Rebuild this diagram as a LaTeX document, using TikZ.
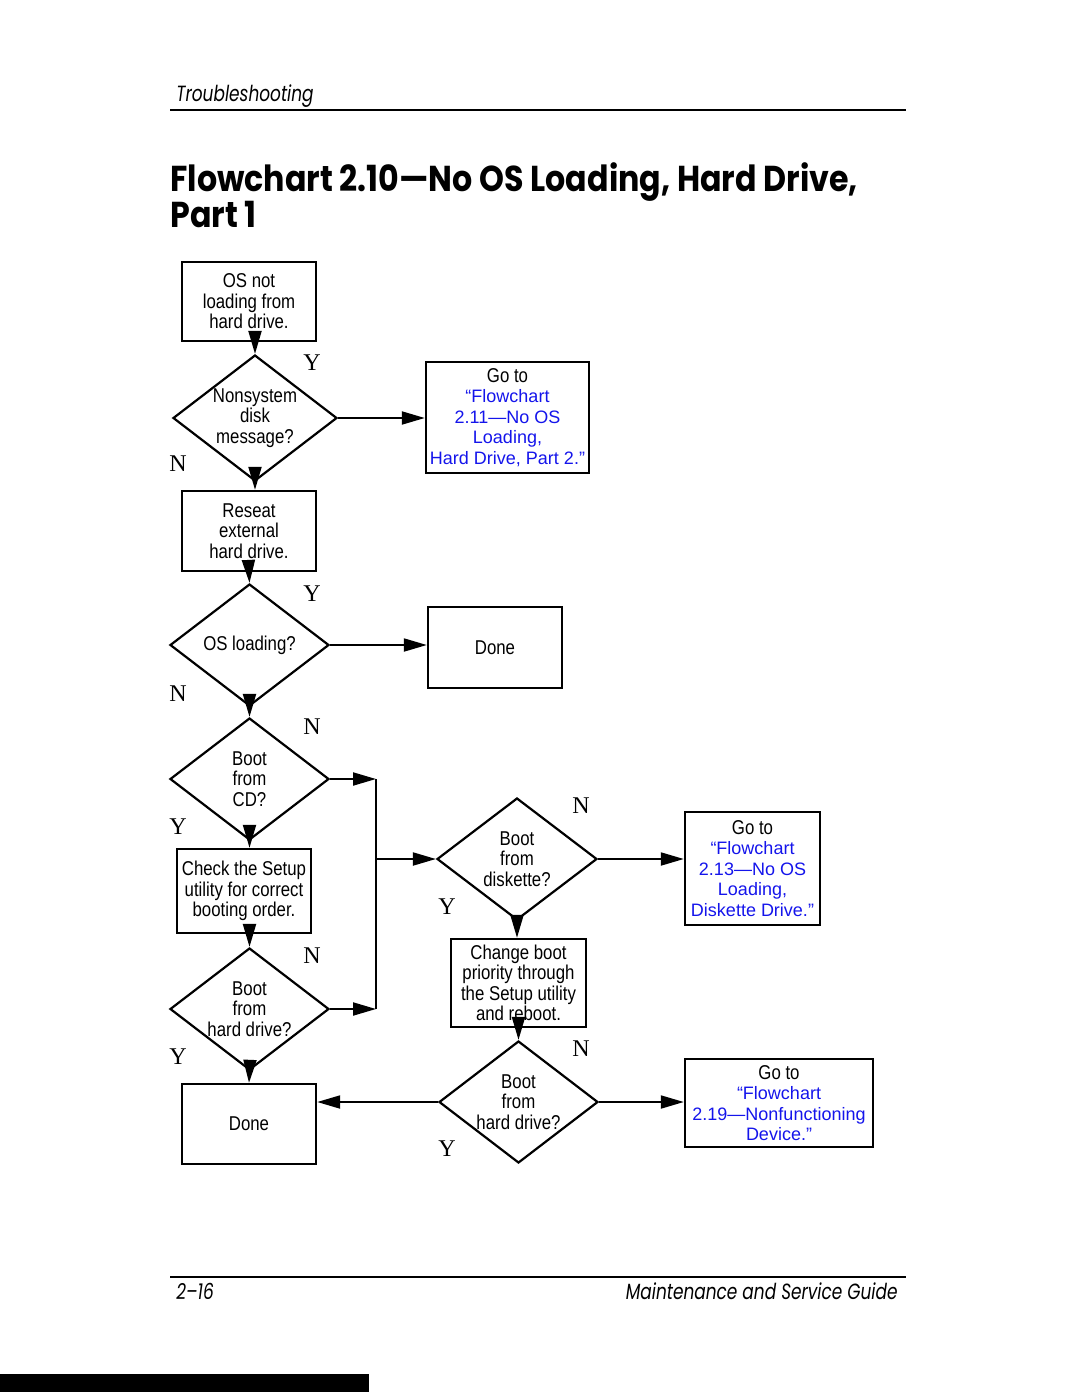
\documentclass[tikz,border=0pt]{standalone}
\usepackage{fontspec}
\usepackage{xcolor}
\setmainfont{Liberation Sans}
\newfontfamily\boxfont[FakeStretch=0.84]{Liberation Sans}
\newfontfamily\linkfont{Liberation Sans}
\newfontfamily\ynfont{Liberation Serif}
\newfontfamily\headfont[FakeStretch=0.77]{Poppins}
\newfontfamily\titlefont[FakeStretch=0.88]{Poppins}
\usetikzlibrary{shapes.geometric,arrows.meta}
\definecolor{linkblue}{RGB}{20,20,235}
\newcommand\lnk[1]{{\linkfont\fontsize{9}{10.25}\selectfont\color{linkblue}#1}}

\begin{document}
\begin{tikzpicture}[x=0.5pt,y=-0.5pt,
  box/.style={draw,line width=1.2pt,inner sep=0pt,align=center,
    font=\boxfont\fontsize{10}{10.25}\selectfont},
  dec/.style={diamond,draw,line width=1.1pt,inner sep=0pt,aspect=1.3,align=center,
    minimum width=79.5pt,minimum height=61pt,
    font=\boxfont\fontsize{10}{10.25}\selectfont},
  yn/.style={font=\ynfont\fontsize{12}{12}\selectfont},
  page/.style={inner sep=0pt,font=\headfont\itshape\fontsize{11}{11}\selectfont},
  heading/.style={inner sep=0pt,anchor=base west,font=\titlefont\bfseries\fontsize{18}{18}\selectfont},
  arr/.style={line width=1pt,-{Triangle[length=11.5pt,width=6.5pt]}}]
\useasboundingbox (0,0) rectangle (1080,1397);

% page head
\node[page,anchor=base west] (head) at (176,101) {Troubleshooting};
\draw[line width=0.8pt] (170,110) -- (906,110);
\node[heading] (title1) at (170,191) {Flowchart 2.10—No OS Loading, Hard Drive,};
\node[heading] (title2) at (170,227) {Part 1};

% left column
\node[box,minimum width=67pt,minimum height=39.5pt] (start) at (249,301.5) {OS not\\loading from\\hard drive.};
\node[dec,minimum width=82pt,minimum height=63pt] (nonsys) at (255,418) {Nonsystem\\disk\\message?};
\node[box,minimum width=67pt,minimum height=40pt] (reseat) at (249,531) {Reseat\\external\\hard drive.};
\node[dec] (osload) at (249.5,645) {OS loading?};
\node[dec] (bootcd) at (249.5,779) {Boot\\from\\CD?};
\node[box,minimum width=67pt,minimum height=42pt] (check) at (244,891) {Check the Setup\\utility for correct\\booting order.};
\node[dec] (boothd) at (249.5,1009) {Boot\\from\\hard drive?};
\node[box,minimum width=67pt,minimum height=40pt] (doneb) at (249,1124) {Done};

% right side
\node[box,minimum width=81.5pt,minimum height=55.5pt] (goto211) at (507.5,417.5) {Go to\\\lnk{“Flowchart}\\\lnk{2.11—No OS}\\\lnk{Loading,}\\\lnk{Hard Drive, Part 2.”}};
\node[box,minimum width=67pt,minimum height=40.5pt] (donea) at (495,647.5) {Done};
\node[dec,minimum width=80pt] (bootfd) at (517,859) {Boot\\from\\diskette?};
\node[box,minimum width=67.5pt,minimum height=56.5pt] (goto213) at (752.5,868.5) {Go to\\\lnk{“Flowchart}\\\lnk{2.13—No OS}\\\lnk{Loading,}\\\lnk{Diskette Drive.”}};
\node[box,minimum width=67.5pt,minimum height=44pt] (change) at (518.5,983) {Change boot\\priority through\\the Setup utility\\and reboot.};
\node[dec] (boothd2) at (518.5,1102) {Boot\\from\\hard drive?};
\node[box,minimum width=94pt,minimum height=44pt] (goto219) at (779,1103) {Go to\\\lnk{“Flowchart}\\\lnk{2.19—Nonfunctioning}\\\lnk{Device.”}};

\coordinate (jcd) at (376,779);
\coordinate (jhd) at (376,1009);
\coordinate (jfd) at (376,859);

% connectors
\draw[arr] (nonsys.north |- start.south) -- (nonsys.north);
\draw[arr] (nonsys.east) -- (goto211.west |- nonsys.east);
\draw[arr] (nonsys.south) -- (nonsys.south |- reseat.north);
\draw[arr] (reseat.south) -- (osload.north);
\draw[arr] (osload.east) -- (donea.west |- osload.east);
\draw[arr] (osload.south) -- (bootcd.north);
\draw[arr] (bootcd.east) -- (jcd);
\draw[arr] (bootcd.south) -- (bootcd.south |- check.north);
\draw[arr] (boothd.north |- check.south) -- (boothd.north);
\draw[arr] (boothd.east) -- (jhd);
\draw[arr] (boothd.south) -- (doneb.north);
\draw[line width=1pt] (jcd) -- (jhd);
\draw[arr] (jfd) -- (bootfd.west);
\draw[arr] (bootfd.east) -- (goto213.west |- bootfd.east);
\draw[arr] (bootfd.south) -- (bootfd.south |- change.north);
\draw[arr] (change.south) -- (boothd2.north);
\draw[arr] (boothd2.east) -- (goto219.west |- boothd2.east);
\draw[arr] (boothd2.west) -- (doneb.east |- boothd2.west);

% Y / N labels
\node[yn] (y1) at (312,363) {Y};
\node[yn] (n1) at (178,464) {N};
\node[yn] (y2) at (312,594) {Y};
\node[yn] (n2) at (178,694) {N};
\node[yn] (n3) at (312,727) {N};
\node[yn] (y3) at (178,827) {Y};
\node[yn] (n4) at (312,956) {N};
\node[yn] (y4) at (178,1057) {Y};
\node[yn] (n5) at (581,806) {N};
\node[yn] (y5) at (447,907) {Y};
\node[yn] (n6) at (581,1049) {N};
\node[yn] (y6) at (447,1149) {Y};

% page foot
\draw[line width=0.8pt] (170,1277) -- (906,1277);
\node[page,anchor=base west] (pageno) at (176,1299) {2–16};
\node[page,anchor=base east] (guide) at (898,1299) {Maintenance and Service Guide};
\fill (0,1374) rectangle (369,1392);
\end{tikzpicture}
\end{document}
